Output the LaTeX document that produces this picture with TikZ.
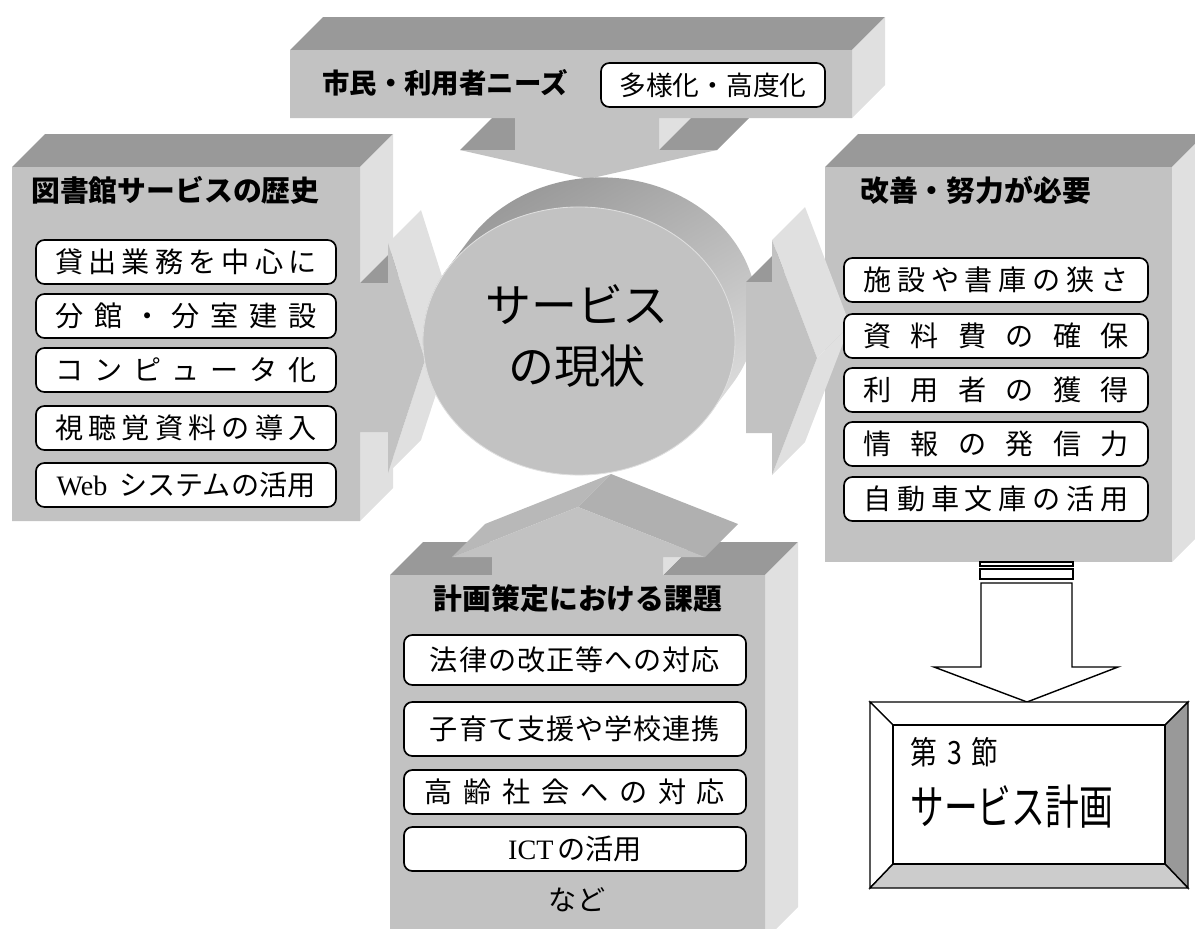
\documentclass[tikz,border=0pt]{standalone}
\usepackage{fontspec}
\usepackage{graphicx}
\setmainfont{Liberation Serif}
\newfontfamily\jpfont{Noto Sans CJK JP}
\newcommand\gap{\hfill}
\definecolor{facefront}{gray}{0.76}
\definecolor{facetop}{gray}{0.6}
\definecolor{faceside}{gray}{0.88}
\definecolor{facewing}{gray}{0.72}
\definecolor{facewingb}{gray}{0.69}
\definecolor{cyldark}{gray}{0.58}
\definecolor{cyllight}{gray}{0.9}
\definecolor{bevelright}{gray}{0.6}
\definecolor{bevelbottom}{gray}{0.8}
\tikzset{
  front/.style={fill=facefront},
  topface/.style={fill=facetop},
  sideface/.style={fill=faceside},
  heading/.style={font=\jpfont\bfseries\fontsize{20.5}{24}\selectfont, inner sep=0pt},
  item/.style={draw, line width=1.2pt, rounded corners=6pt, fill=white, inner sep=0pt,
    minimum width=7.5cm, minimum height=1.1cm, font=\jpfont\fontsize{20}{24}\selectfont},
  bevel/.style={line width=1pt, draw=black},
}
\begin{document}
\begin{tikzpicture}[x=0.025cm,y=-0.025cm]
\useasboundingbox (0,0) rectangle (1195,928);
\clip (0,0) rectangle (1195,928);

% needs box with down arrow
\fill[topface] (290,50) -- (852,50) -- ++(33,-33) -- (323,17) -- cycle;
\fill[sideface] (852,50) -- (852,118) -- ++(33,-33) -- (885,17) -- cycle;
\fill[sideface] (659,118) -- (659,150) -- ++(33,-33) -- (692,85) -- cycle;
\fill[topface] (659,150) -- (717,150) -- ++(33,-33) -- (692,117) -- cycle;
\fill[topface] (460,150) -- (515,150) -- ++(33,-33) -- (493,117) -- cycle;
\fill[front] (290,50) -- (852,50) -- (852,118) -- (659,118) -- (659,150) -- (717,150)
  -- (588,179) -- (460,150) -- (515,150) -- (515,118) -- (290,118) -- cycle;

% history box with right arrow
\fill[topface] (12,167) -- (360,167) -- ++(33,-33) -- (45,134) -- cycle;
\fill[sideface] (360,167) -- (360,283) -- ++(33,-33) -- (393,134) -- cycle;
\fill[topface] (360,283) -- (388,283) -- ++(33,-33) -- (393,250) -- cycle;
\fill[sideface] (388,243) -- (425,360) -- ++(33,-33) -- (421,210) -- cycle;
\fill[sideface] (425,360) -- (388,473) -- ++(33,-33) -- (458,327) -- cycle;
\fill[sideface] (360,432) -- (360,521) -- ++(33,-33) -- (393,399) -- cycle;
\fill[front] (12,167) -- (360,167) -- (360,283) -- (388,283) -- (388,243) -- (425,360)
  -- (388,473) -- (388,432) -- (360,432) -- (360,521) -- (12,521) -- cycle;

% issues box with up arrow
\fill[topface] (390,575) -- (492,575) -- ++(33,-33) -- (423,542) -- cycle;
\fill[topface] (663,575) -- (765,575) -- ++(33,-33) -- (696,542) -- cycle;
\fill[sideface] (765,575) -- (765,940) -- ++(33,-33) -- (798,542) -- cycle;
\fill[sideface] (663,557) -- (663,575) -- ++(33,-33) -- (696,524) -- cycle;
\fill[facewing] (452,557) -- (578,507) -- ++(33,-33) -- (485,524) -- cycle;
\fill[facewingb] (578,507) -- (705,557) -- ++(33,-33) -- (611,474) -- cycle;
\fill[front] (390,575) -- (492,575) -- (492,557) -- (452,557) -- (578,507) -- (705,557)
  -- (663,557) -- (663,575) -- (765,575) -- (765,940) -- (390,940) -- cycle;

% current state cylinder
\shade[top color=cyldark, bottom color=cyllight, shading angle=30]
  (469,240) arc[start angle=147.8, end angle=-32.2, x radius=3.9cm, y radius=3.35cm]
  -- (711,412) arc[start angle=-32.2, end angle=-212.2, x radius=3.9cm, y radius=3.35cm] -- cycle;
\fill[front, draw=white!75!gray, line width=0.6pt] (579,341) ellipse [x radius=3.9cm, y radius=3.35cm];
\node[align=center, inner sep=0pt, font=\jpfont\fontsize{32.7}{44}\selectfont] (now) at (577,336)
  {サービス\\の現状};

% improvement box
\fill[topface] (825,167) -- (1172,167) -- ++(33,-33) -- (858,134) -- cycle;
\fill[sideface] (1172,167) -- (1172,562) -- ++(33,-33) -- (1205,134) -- cycle;
\fill[front] (825,167) rectangle (1172,562);

% arrow into improvement box
\fill[topface] (746,282) -- (772,282) -- ++(33,-33) -- (779,249) -- cycle;
\fill[sideface] (772,240) -- (817,358) -- ++(33,-33) -- (805,207) -- cycle;
\fill[sideface] (817,358) -- (772,475) -- ++(33,-33) -- (850,325) -- cycle;
\fill[front] (746,282) -- (772,282) -- (772,240) -- (817,358) -- (772,475) -- (772,433)
  -- (746,433) -- cycle;

% headings
\node[heading, anchor=west, font=\jpfont\bfseries\fontsize{19.5}{24}\selectfont] (needs) at (322,83) {市民・利用者ニーズ};
\node[item, minimum width=5.6cm] (needsitem) at (713,85)
  {\fontsize{19}{22}\selectfont 多様化・高度化};
\node[heading, anchor=west] (hist) at (31,190) {図書館サービスの歴史};
\node[heading, anchor=west] (impr) at (860,190) {改善・努力が必要};
\node[heading] (issue) at (578,599) {計画策定における課題};

% history items
\node[item] (h1) at (186,262) {\makebox[6.53cm]{貸\gap 出\gap 業\gap 務\gap を\gap 中\gap 心\gap に}};
\node[item] (h2) at (186,316) {\makebox[6.53cm]{分\gap 館\gap ・\gap 分\gap 室\gap 建\gap 設}};
\node[item] (h3) at (186,370) {\makebox[6.53cm]{コ\gap ン\gap ピ\gap ュ\gap ー\gap タ\gap 化}};
\node[item] (h4) at (186,428) {\makebox[6.53cm]{視\gap 聴\gap 覚\gap 資\gap 料\gap の\gap 導\gap 入}};
\node[item] (h5) at (186,485) {{\rmfamily Web}\hspace{0.3cm}システムの活用};

% improvement items
\node[item, minimum width=7.6cm] (i1) at (996,280) {\makebox[6.63cm]{施\gap 設\gap や\gap 書\gap 庫\gap の\gap 狭\gap さ}};
\node[item, minimum width=7.6cm] (i2) at (996,336) {\makebox[6.63cm]{資\gap 料\gap 費\gap の\gap 確\gap 保}};
\node[item, minimum width=7.6cm] (i3) at (996,390) {\makebox[6.63cm]{利\gap 用\gap 者\gap の\gap 獲\gap 得}};
\node[item, minimum width=7.6cm] (i4) at (996,444) {\makebox[6.63cm]{情\gap 報\gap の\gap 発\gap 信\gap 力}};
\node[item, minimum width=7.6cm] (i5) at (996,499) {\makebox[6.63cm]{自\gap 動\gap 車\gap 文\gap 庫\gap の\gap 活\gap 用}};

% issue items
\node[item, minimum width=8.55cm, minimum height=1.25cm] (p1) at (575,660)
  {\makebox[7.25cm]{法\gap 律\gap の\gap 改\gap 正\gap 等\gap へ\gap の\gap 対\gap 応}\hspace{0.35cm}};
\node[item, minimum width=8.55cm, minimum height=1.35cm] (p2) at (575,729)
  {\makebox[7.25cm]{子\gap 育\gap て\gap 支\gap 援\gap や\gap 学\gap 校\gap 連\gap 携}\hspace{0.35cm}};
\node[item, minimum width=8.55cm] (p3) at (575,792)
  {\makebox[7.5cm]{高\gap 齢\gap 社\gap 会\gap へ\gap の\gap 対\gap 応}};
\node[item, minimum width=8.55cm] (p4) at (575,849) {{\rmfamily ICT}\hspace{0.1cm}の活用};
\node[inner sep=0pt, font=\jpfont\fontsize{20}{24}\selectfont] (etc) at (577,900) {など};

% striped arrow
\filldraw[fill=white, line width=1pt] (980,562) rectangle (1073,566);
\filldraw[fill=white, line width=1pt] (980,569) rectangle (1073,579);
\filldraw[fill=white, line width=1pt] (981,583) -- (1072,583) -- (1072,667) -- (1118,667)
  -- (1027,702) -- (934,667) -- (981,667) -- cycle;

% plan frame
\filldraw[bevel, fill=white] (870,702) -- (1188,702) -- (1165,725) -- (893,725) -- cycle;
\filldraw[bevel, fill=white] (870,702) -- (893,725) -- (893,864) -- (870,888) -- cycle;
\filldraw[bevel, fill=bevelright] (1188,702) -- (1188,888) -- (1165,864) -- (1165,725) -- cycle;
\filldraw[bevel, fill=bevelbottom] (870,888) -- (1188,888) -- (1165,864) -- (893,864) -- cycle;
\filldraw[bevel, fill=white] (893,725) rectangle (1165,864);
\node[anchor=west, inner sep=0pt, font=\jpfont\fontsize{19}{22}\selectfont] (sec) at (910,752)
  {\scalebox{1}[1.2]{第\hspace{0.25cm}3\hspace{0.25cm}節}};
\node[anchor=west, inner sep=0pt, font=\jpfont\fontsize{24}{28}\selectfont] (plan) at (910,807)
  {\scalebox{1}[1.4]{サービス計画}};
\end{tikzpicture}
\end{document}
